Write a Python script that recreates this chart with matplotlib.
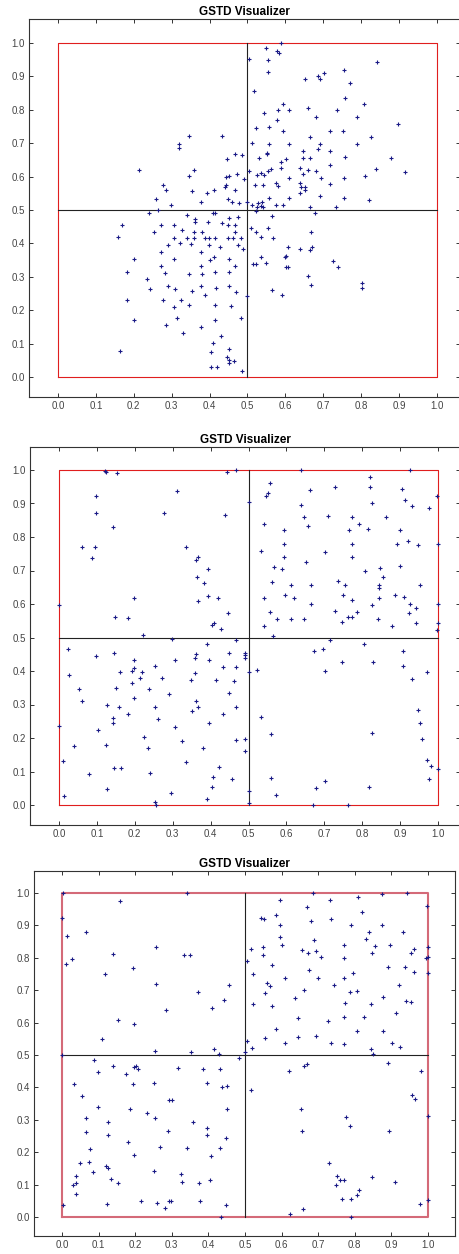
import matplotlib
matplotlib.use("Agg")
import matplotlib.pyplot as plt

# canvas size in pixels
W, H = 459, 1254

TITLE = "GSTD Visualizer"
TICKS = [i / 10 for i in range(11)]
TICK_LABELS = [f"{t:.1f}" for t in TICKS]

# (x, y) of each point, one list per panel
panel1_points = [
    (0.346, 0.722), (0.434, 0.722), (0.320, 0.698), (0.320, 0.686), (0.215, 0.620), (0.360, 0.620),
    (0.346, 0.602), (0.445, 0.652), (0.443, 0.600), (0.450, 0.602), (0.440, 0.568), (0.443, 0.575),
    (0.277, 0.575), (0.284, 0.559), (0.354, 0.556), (0.394, 0.550), (0.412, 0.559), (0.259, 0.532),
    (0.297, 0.516), (0.377, 0.523), (0.448, 0.532),
    (0.240, 0.490), (0.264, 0.500), (0.340, 0.485), (0.361, 0.472), (0.361, 0.464), (0.410, 0.492),
    (0.415, 0.492), (0.397, 0.464), (0.432, 0.460), (0.450, 0.475), (0.449, 0.455), (0.170, 0.455),
    (0.158, 0.420), (0.253, 0.434), (0.272, 0.455), (0.307, 0.455), (0.327, 0.440), (0.306, 0.415),
    (0.323, 0.400), (0.340, 0.415), (0.350, 0.397), (0.360, 0.415), (0.360, 0.434), (0.380, 0.434),
    (0.387, 0.415), (0.398, 0.415), (0.398, 0.394), (0.413, 0.415), (0.428, 0.390), (0.449, 0.415),
    (0.289, 0.394), (0.271, 0.373), (0.378, 0.373), (0.200, 0.353), (0.306, 0.353), (0.401, 0.350),
    (0.412, 0.358), (0.450, 0.353), (0.271, 0.333), (0.378, 0.333), (0.181, 0.313), (0.282, 0.310),
    (0.345, 0.308), (0.380, 0.308), (0.414, 0.313), (0.450, 0.313), (0.236, 0.292), (0.242, 0.262),
    (0.289, 0.272), (0.310, 0.262), (0.354, 0.257), (0.378, 0.272), (0.387, 0.247), (0.417, 0.265),
    (0.450, 0.272), (0.181, 0.232), (0.276, 0.231), (0.325, 0.232), (0.346, 0.217), (0.306, 0.211),
    (0.414, 0.217), (0.315, 0.178), (0.200, 0.171), (0.414, 0.171), (0.284, 0.156), (0.378, 0.151),
    (0.330, 0.131), (0.429, 0.123), (0.410, 0.101), (0.452, 0.083), (0.163, 0.078), (0.403, 0.074),
    (0.445, 0.061), (0.450, 0.052), (0.450, 0.042), (0.403, 0.030), (0.420, 0.030),
    (0.589, 0.999), (0.548, 0.984), (0.577, 0.975), (0.584, 0.969), (0.503, 0.951), (0.555, 0.948),
    (0.843, 0.942), (0.555, 0.912), (0.754, 0.920), (0.703, 0.911), (0.687, 0.900), (0.691, 0.891),
    (0.653, 0.893), (0.771, 0.880), (0.516, 0.856), (0.758, 0.834), (0.593, 0.818), (0.807, 0.818),
    (0.581, 0.799), (0.610, 0.799), (0.660, 0.804), (0.735, 0.799), (0.543, 0.789), (0.682, 0.778),
    (0.789, 0.778), (0.577, 0.769), (0.897, 0.758), (0.523, 0.747), (0.557, 0.748), (0.593, 0.738),
    (0.718, 0.738), (0.751, 0.738), (0.664, 0.720), (0.826, 0.719), (0.513, 0.702), (0.557, 0.698),
    (0.610, 0.698), (0.691, 0.698), (0.685, 0.683), (0.789, 0.698), (0.468, 0.668), (0.485, 0.665),
    (0.551, 0.672), (0.551, 0.668), (0.646, 0.678), (0.718, 0.678), (0.531, 0.657), (0.589, 0.645),
    (0.602, 0.654), (0.646, 0.657), (0.664, 0.657), (0.758, 0.660), (0.879, 0.657), (0.718, 0.636),
    (0.589, 0.627), (0.561, 0.624), (0.638, 0.627), (0.660, 0.620), (0.839, 0.624), (0.915, 0.615),
    (0.472, 0.609), (0.503, 0.617), (0.526, 0.605), (0.535, 0.610), (0.543, 0.605), (0.554, 0.617),
    (0.491, 0.592), (0.610, 0.597), (0.646, 0.607), (0.682, 0.617), (0.694, 0.597), (0.754, 0.597),
    (0.809, 0.602), (0.519, 0.575), (0.542, 0.575), (0.574, 0.581), (0.580, 0.572), (0.638, 0.581),
    (0.640, 0.569), (0.653, 0.569), (0.653, 0.559), (0.718, 0.577), (0.467, 0.559), (0.638, 0.550),
    (0.557, 0.535), (0.574, 0.515), (0.593, 0.515), (0.610, 0.535), (0.664, 0.510), (0.691, 0.542),
    (0.734, 0.508), (0.754, 0.535), (0.821, 0.530),
    (0.458, 0.525), (0.478, 0.520), (0.499, 0.525), (0.513, 0.515), (0.527, 0.522), (0.536, 0.513),
    (0.542, 0.508), (0.525, 0.510), (0.539, 0.525),
    (0.522, 0.497), (0.677, 0.492), (0.476, 0.478), (0.467, 0.455), (0.564, 0.483), (0.510, 0.445),
    (0.523, 0.435), (0.555, 0.445), (0.667, 0.435), (0.467, 0.435), (0.462, 0.415), (0.484, 0.415),
    (0.535, 0.420), (0.566, 0.415), (0.476, 0.395), (0.488, 0.383), (0.607, 0.389), (0.638, 0.384),
    (0.665, 0.380), (0.669, 0.389), (0.602, 0.362), (0.600, 0.358), (0.535, 0.358), (0.467, 0.333),
    (0.515, 0.338), (0.523, 0.338), (0.548, 0.342), (0.601, 0.330), (0.607, 0.330), (0.726, 0.347),
    (0.740, 0.328), (0.660, 0.303), (0.668, 0.275), (0.801, 0.280), (0.803, 0.265), (0.564, 0.260),
    (0.591, 0.246), (0.470, 0.255), (0.500, 0.243), (0.457, 0.212), (0.482, 0.176), (0.465, 0.048),
    (0.486, 0.018),
]

panel2_points = [
    (0.001, 0.596), (0.122, 0.998), (0.124, 0.994), (0.154, 0.991), (0.098, 0.921), (0.098, 0.873),
    (0.143, 0.830), (0.062, 0.771), (0.094, 0.769), (0.087, 0.736), (0.199, 0.617), (0.148, 0.560),
    (0.183, 0.558), (0.311, 0.938), (0.278, 0.873), (0.334, 0.769), (0.362, 0.731), (0.368, 0.739),
    (0.392, 0.704), (0.365, 0.681), (0.383, 0.662), (0.392, 0.624), (0.368, 0.609), (0.420, 0.619),
    (0.437, 0.867), (0.444, 0.995), (0.446, 0.572), (0.405, 0.537), (0.410, 0.542), (0.428, 0.525),
    (0.222, 0.507), (0.298, 0.496), (0.001, 0.237), (0.025, 0.465), (0.027, 0.388), (0.097, 0.445),
    (0.146, 0.455), (0.054, 0.345), (0.062, 0.310), (0.040, 0.176), (0.011, 0.130), (0.014, 0.027),
    (0.080, 0.092), (0.104, 0.224), (0.126, 0.299), (0.124, 0.178), (0.127, 0.049), (0.142, 0.259),
    (0.143, 0.244), (0.150, 0.348), (0.159, 0.292), (0.162, 0.398), (0.146, 0.110), (0.164, 0.110),
    (0.181, 0.271), (0.199, 0.433), (0.198, 0.408), (0.193, 0.400), (0.218, 0.398), (0.193, 0.363),
    (0.213, 0.378), (0.199, 0.318), (0.224, 0.204), (0.236, 0.171), (0.238, 0.345), (0.240, 0.096),
    (0.253, 0.415), (0.253, 0.292), (0.262, 0.256), (0.252, 0.009), (0.255, 0.000), (0.271, 0.378),
    (0.289, 0.332), (0.307, 0.433), (0.307, 0.232), (0.296, 0.037), (0.325, 0.190), (0.334, 0.128),
    (0.349, 0.373), (0.360, 0.440), (0.362, 0.450), (0.360, 0.393), (0.352, 0.280), (0.367, 0.292),
    (0.361, 0.311), (0.379, 0.170), (0.390, 0.480), (0.396, 0.433), (0.397, 0.246), (0.414, 0.373),
    (0.432, 0.413), (0.433, 0.271), (0.423, 0.114), (0.407, 0.084), (0.404, 0.055), (0.390, 0.017),
    (0.449, 0.333), (0.449, 0.455),
    (0.468, 1.000), (0.639, 1.000), (0.925, 1.000), (0.558, 0.960), (0.552, 0.932), (0.547, 0.921),
    (0.501, 0.904), (0.663, 0.939), (0.728, 0.949), (0.639, 0.896), (0.820, 0.979), (0.820, 0.949),
    (0.827, 0.901), (0.905, 0.943), (0.914, 0.910), (0.931, 0.893), (0.976, 0.886), (0.998, 0.921),
    (0.540, 0.840), (0.594, 0.820), (0.647, 0.860), (0.657, 0.833), (0.711, 0.863), (0.773, 0.860),
    (0.766, 0.820), (0.791, 0.840), (0.816, 0.824), (0.862, 0.860), (0.899, 0.820), (0.594, 0.779),
    (0.773, 0.779), (0.892, 0.779), (0.920, 0.787), (0.947, 0.775), (1.000, 0.779), (0.534, 0.759),
    (0.594, 0.741), (0.703, 0.754), (0.773, 0.739), (0.567, 0.711), (0.589, 0.703), (0.652, 0.724),
    (0.808, 0.698), (0.846, 0.708), (0.899, 0.713), (0.855, 0.682), (0.844, 0.656), (0.844, 0.649),
    (0.562, 0.665), (0.612, 0.658), (0.666, 0.658), (0.737, 0.668), (0.755, 0.658), (0.952, 0.658),
    (0.540, 0.617), (0.596, 0.627), (0.621, 0.617), (0.750, 0.627), (0.773, 0.612), (0.844, 0.617),
    (0.887, 0.627), (0.909, 0.620), (0.666, 0.600), (0.827, 0.597), (0.925, 0.600), (0.941, 0.587),
    (1.000, 0.600), (0.558, 0.575), (0.728, 0.579), (0.785, 0.575), (0.763, 0.562), (0.773, 0.562),
    (0.924, 0.574), (0.576, 0.555), (0.612, 0.555), (0.647, 0.555), (0.841, 0.555), (0.748, 0.546),
    (0.540, 0.535), (0.879, 0.535), (0.943, 0.542), (1.000, 0.544),
    (0.998, 0.522), (0.565, 0.505), (0.466, 0.493), (0.715, 0.493), (0.804, 0.480), (0.672, 0.459),
    (0.697, 0.465), (0.908, 0.459), (0.491, 0.455), (0.491, 0.449), (0.491, 0.440), (0.468, 0.413),
    (0.746, 0.426), (0.829, 0.426), (0.908, 0.414), (0.522, 0.403), (0.701, 0.401), (0.970, 0.396),
    (0.501, 0.396), (0.462, 0.370), (0.931, 0.375), (0.468, 0.292), (0.534, 0.264), (0.947, 0.283),
    (0.953, 0.244), (0.468, 0.193), (0.491, 0.196), (0.560, 0.211), (0.827, 0.214), (0.959, 0.196),
    (0.491, 0.161), (0.970, 0.134), (0.981, 0.117), (1.000, 0.107), (0.457, 0.079), (0.559, 0.081),
    (0.976, 0.077), (0.701, 0.071), (0.679, 0.051), (0.818, 0.054), (0.502, 0.041), (0.573, 0.029),
    (0.500, 0.007), (0.670, 0.001), (0.763, 0.000),
]

panel3_points = [
    (0.004, 0.999), (0.000, 0.924), (0.013, 0.868), (0.011, 0.780), (0.028, 0.795), (0.066, 0.879),
    (0.158, 0.974), (0.138, 0.811), (0.118, 0.749), (0.194, 0.770), (0.154, 0.608), (0.197, 0.595),
    (0.109, 0.549), (0.257, 0.834), (0.257, 0.718), (0.283, 0.638), (0.342, 0.999), (0.332, 0.808),
    (0.349, 0.808), (0.372, 0.695), (0.411, 0.646), (0.443, 0.671), (0.457, 0.715), (0.415, 0.518),
    (0.000, 0.500), (0.087, 0.485), (0.097, 0.449), (0.138, 0.465), (0.176, 0.441), (0.197, 0.463),
    (0.202, 0.466), (0.208, 0.457), (0.194, 0.410), (0.254, 0.511), (0.252, 0.415), (0.318, 0.459),
    (0.352, 0.508), (0.386, 0.457), (0.395, 0.415), (0.428, 0.503), (0.431, 0.457), (0.436, 0.400),
    (0.450, 0.403), (0.450, 0.333), (0.447, 0.243), (0.034, 0.410), (0.056, 0.375), (0.097, 0.341),
    (0.066, 0.305), (0.066, 0.262), (0.126, 0.294), (0.126, 0.254), (0.077, 0.209), (0.187, 0.332),
    (0.233, 0.322), (0.254, 0.305), (0.292, 0.362), (0.301, 0.362), (0.290, 0.266), (0.359, 0.294),
    (0.395, 0.274), (0.395, 0.254), (0.181, 0.232), (0.198, 0.192), (0.268, 0.217), (0.341, 0.212),
    (0.408, 0.189), (0.431, 0.212), (0.049, 0.166), (0.074, 0.169), (0.086, 0.138), (0.120, 0.156),
    (0.127, 0.151), (0.134, 0.117), (0.154, 0.105), (0.037, 0.127), (0.038, 0.104), (0.030, 0.100),
    (0.038, 0.071), (0.004, 0.036), (0.122, 0.040), (0.215, 0.049), (0.252, 0.141), (0.326, 0.133),
    (0.329, 0.109), (0.373, 0.105), (0.404, 0.115), (0.260, 0.043), (0.281, 0.029), (0.293, 0.049),
    (0.298, 0.049), (0.377, 0.050), (0.447, 0.038), (0.434, 0.001),
    (0.687, 0.999), (0.874, 0.996), (0.943, 0.999), (0.595, 0.977), (0.731, 0.977), (0.810, 0.987),
    (0.670, 0.958), (0.820, 0.941), (0.997, 0.961), (0.544, 0.923), (0.551, 0.921), (0.584, 0.931),
    (0.679, 0.914), (0.736, 0.921), (0.596, 0.900), (0.790, 0.900), (0.874, 0.900), (0.595, 0.865),
    (0.689, 0.854), (0.840, 0.879), (0.831, 0.858), (0.933, 0.881), (0.516, 0.826), (0.550, 0.832),
    (0.550, 0.808), (0.601, 0.840), (0.655, 0.823), (0.673, 0.816), (0.695, 0.820), (0.708, 0.802),
    (0.771, 0.840), (0.771, 0.799), (0.855, 0.837), (0.848, 0.815), (0.897, 0.840), (0.954, 0.815),
    (0.962, 0.827), (1.000, 0.834), (0.994, 0.799), (1.000, 0.803), (0.505, 0.791), (0.575, 0.778),
    (0.675, 0.762), (0.523, 0.749), (0.610, 0.739), (0.699, 0.739), (0.770, 0.739), (0.796, 0.754),
    (0.892, 0.771), (0.937, 0.771), (0.962, 0.757), (0.999, 0.752), (0.561, 0.721), (0.569, 0.713),
    (0.555, 0.692), (0.662, 0.701), (0.744, 0.716), (0.787, 0.695), (0.807, 0.698), (0.922, 0.716),
    (0.637, 0.675), (0.878, 0.678), (0.523, 0.656), (0.575, 0.651), (0.774, 0.661), (0.843, 0.656),
    (0.939, 0.666), (0.953, 0.663), (0.913, 0.629), (0.646, 0.613), (0.727, 0.605), (0.770, 0.617),
    (0.825, 0.617), (0.586, 0.579), (0.807, 0.575), (0.878, 0.575), (0.555, 0.551), (0.646, 0.556),
    (0.695, 0.559), (0.505, 0.542), (0.520, 0.521), (0.610, 0.536), (0.734, 0.536), (0.770, 0.534),
    (0.844, 0.518), (0.902, 0.536), (0.923, 0.524),
    (0.484, 0.491), (0.500, 0.508), (0.850, 0.503), (0.621, 0.451), (0.661, 0.465), (0.669, 0.472),
    (0.890, 0.474), (0.982, 0.451), (0.516, 0.392), (0.956, 0.376), (0.964, 0.365), (0.652, 0.332),
    (0.776, 0.310), (1.000, 0.312), (0.657, 0.266), (0.787, 0.280), (0.894, 0.266), (0.730, 0.168),
    (0.750, 0.127), (0.760, 0.114), (0.771, 0.114), (0.749, 0.098), (0.848, 0.123), (0.911, 0.108),
    (0.811, 0.084), (0.807, 0.069), (0.765, 0.055), (0.790, 0.057), (0.977, 0.039), (1.000, 0.052),
    (0.659, 0.025), (0.624, 0.008), (0.790, 0.001),
]


def draw_panel(fig, frame, origin, unit, points, box_color, box_lw):
    # frame: axes edges in pixels (left, right, top, bottom)
    # origin/unit: pixel position of data (0, 0) and pixels per data unit
    left, right, top, bottom = frame
    x0, y0 = origin
    ux, uy = unit
    ax = fig.add_axes([left / W, 1 - bottom / H, (right - left) / W, (bottom - top) / H])
    ax.set_xlim((left - x0) / ux, (right - x0) / ux)
    ax.set_ylim((y0 - bottom) / uy, (y0 - top) / uy)

    ax.plot([0, 1, 1, 0, 0], [0, 0, 1, 1, 0], color=box_color, lw=box_lw, zorder=2)
    ax.plot([0.5, 0.5], [0, 1], color='#222222', lw=0.8, zorder=2)
    ax.plot([0, 1], [0.5, 0.5], color='#222222', lw=0.8, zorder=2)

    xs, ys = zip(*points)
    ax.plot(xs, ys, '+', ms=3, mew=0.8, color='#1a1a86', zorder=3)

    ax.set_xticks(TICKS)
    ax.set_xticklabels(TICK_LABELS)
    ax.set_yticks(TICKS)
    ax.set_yticklabels(TICK_LABELS)
    ax.tick_params(direction='in', length=3, width=0.7, top=True, right=True,
                   color='#333333', labelcolor='#444444', labelsize=7, pad=3)
    for s in ax.spines.values():
        s.set_color('#333333')
        s.set_linewidth(0.8)
    ax.set_title(TITLE, fontsize=8.5, fontweight='bold', pad=3)
    return ax


def main():
    plt.rcParams['font.family'] = ['Liberation Sans', 'DejaVu Sans']
    fig = plt.figure(figsize=(W / 100, H / 100), dpi=100)
    fig.patch.set_facecolor('white')

    draw_panel(fig, (29, 460, 19, 397), (58, 377), (379, 334), panel1_points, '#e01e1e', 0.8)
    draw_panel(fig, (30, 460, 447, 825), (59, 805), (379, 335), panel2_points, '#e01e1e', 0.8)
    draw_panel(fig, (34, 455, 871, 1236), (62, 1217), (366, 324), panel3_points, '#d46a78', 1.5)

    fig.savefig("out.png", dpi=100)
    plt.close(fig)


if __name__ == "__main__":
    main()
